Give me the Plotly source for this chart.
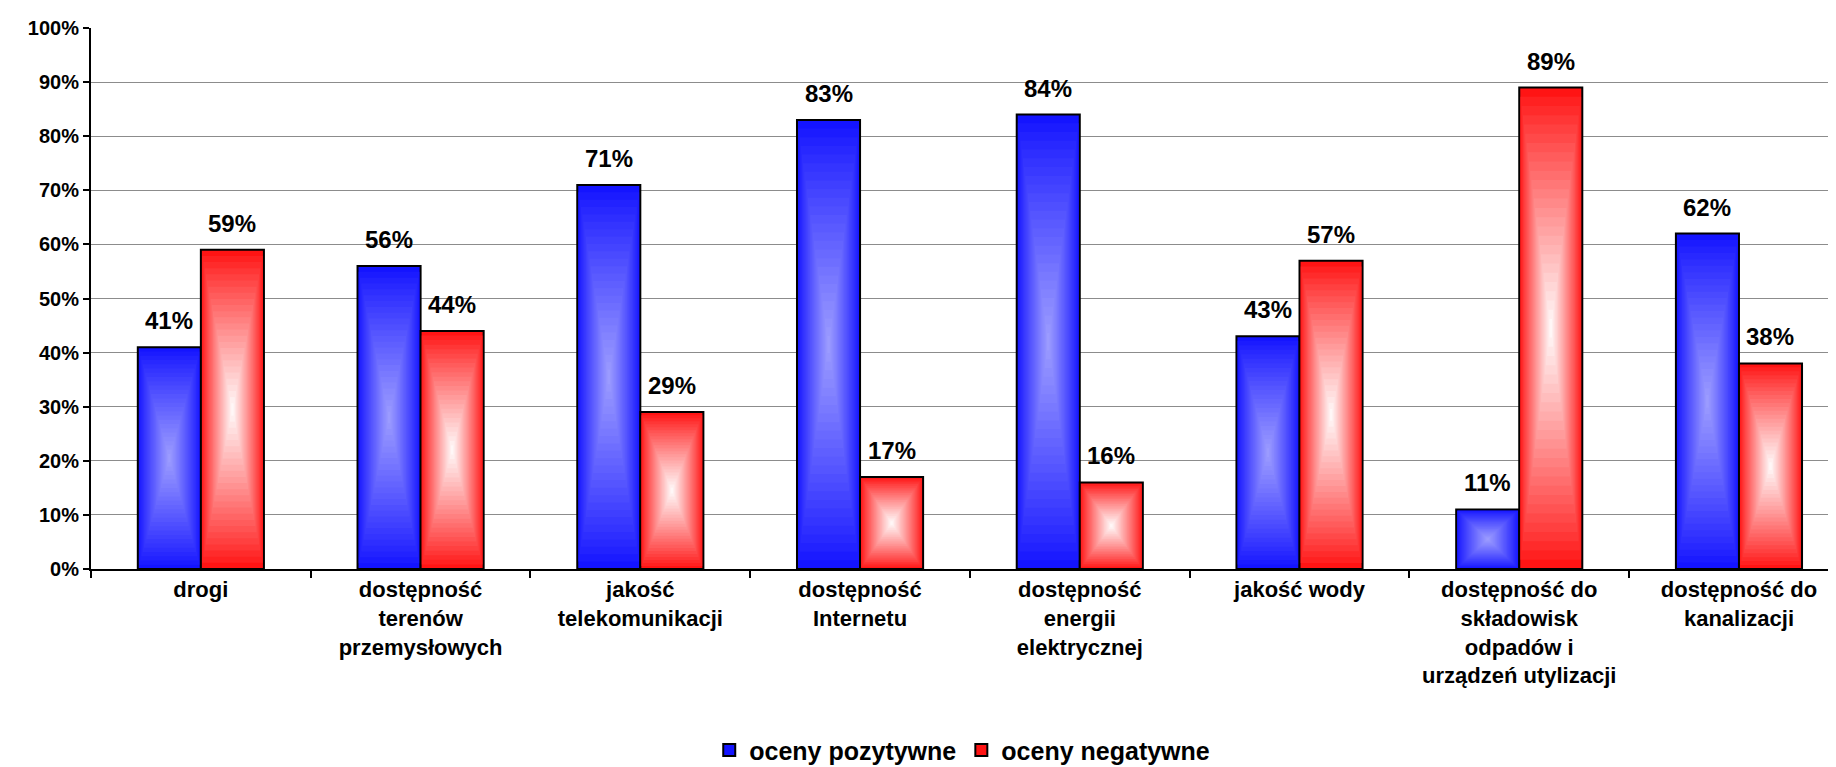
import plotly.graph_objects as go

categories = [
    "drogi",
    "dostępność<br>terenów<br>przemysłowych",
    "jakość<br>telekomunikacji",
    "dostępność<br>Internetu",
    "dostępność<br>energii<br>elektrycznej",
    "jakość wody",
    "dostępność do<br>składowisk<br>odpadów i<br>urządzeń utylizacji",
    "dostępność do<br>kanalizacji",
]
positive = [41, 56, 71, 83, 84, 43, 11, 62]
negative = [59, 44, 29, 17, 16, 57, 89, 38]
series_names = ["oceny pozytywne", "oceny negatywne"]

FONT = "Liberation Sans, Arial, sans-serif"
BAR_W = 0.287          # bar width in category units
CAT_PX = 219.6         # pixel width of one category on the x axis
N_LAYERS = 26          # concentric layers used to fake Excel's "from center" gradient

# (edge colour, centre colour) per series
GRADIENTS = [((20, 20, 255), (160, 160, 255)), ((255, 20, 20), (255, 255, 255))]


def _mix(a, b, t):
    return "rgb({},{},{})".format(*[round(a[i] + (b[i] - a[i]) * t) for i in range(3)])


fig = go.Figure()
for s, (name, values) in enumerate(zip(series_names, [positive, negative])):
    edge, centre = GRADIENTS[s]
    offset0 = -BAR_W if s == 0 else 0.0
    for k in range(N_LAYERS):
        f = k / N_LAYERS
        fig.add_trace(go.Bar(
            x=categories,
            y=[v * (1 - f) for v in values],
            base=[v * f / 2 for v in values],
            width=BAR_W * (1 - f),
            offset=offset0 + BAR_W * f / 2,
            marker=dict(color=_mix(edge, centre, f ** 0.9),
                        line=dict(color="black", width=2 if k == 0 else 0)),
            name=name,
            showlegend=(k == 0),
            legendgroup=name,
            hoverinfo="skip",
        ))
    for cat, v in zip(categories, values):
        fig.add_annotation(
            x=cat, y=v, xref="x", yref="y", text=f"{v}%", showarrow=False,
            xshift=(-BAR_W / 2 if s == 0 else BAR_W / 2) * CAT_PX,
            yanchor="bottom", yshift=11,
            font=dict(family=FONT, size=24, color="black", weight="bold"),
        )

fig.update_layout(
    barmode="overlay",
    width=1836, height=767,
    paper_bgcolor="white", plot_bgcolor="white",
    margin=dict(l=83, r=0, t=20, b=206),
    font=dict(family=FONT, size=20, color="black", weight="bold"),
    showlegend=True,
    legend=dict(orientation="h", x=0.497, xanchor="center", y=-0.335, yanchor="middle",
                font=dict(family=FONT, size=25, color="black", weight="bold"),
                itemwidth=30, traceorder="normal"),
    xaxis=dict(
        type="category", range=[-0.5, 7.478], showgrid=False,
        showline=True, linecolor="black", linewidth=2,
        ticks="outside", tickson="boundaries", ticklen=7, tickwidth=2, tickcolor="black",
        tickfont=dict(family=FONT, size=22, color="black", weight="bold"),
    ),
    yaxis=dict(
        range=[0, 100], dtick=10, ticksuffix="%",
        showgrid=True, gridcolor="#8c8c8c", gridwidth=1.4,
        showline=True, linecolor="black", linewidth=2,
        ticks="outside", ticklen=6, tickwidth=2, tickcolor="black",
        tickfont=dict(family=FONT, size=20, color="black", weight="bold"),
        zeroline=False,
    ),
)

fig.write_html("out.html")
